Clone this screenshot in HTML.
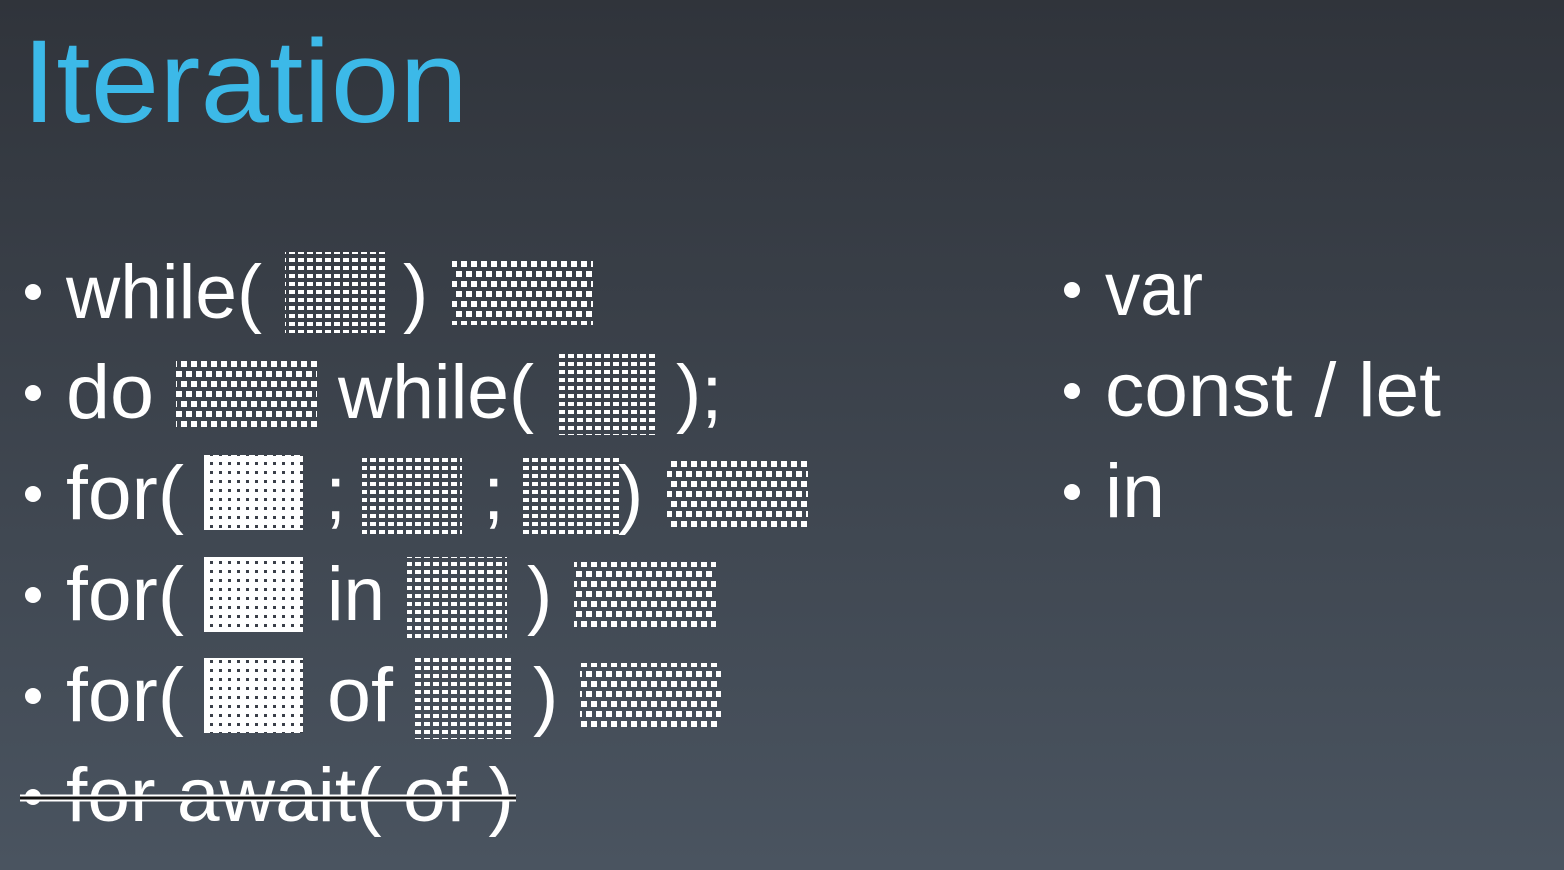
<!DOCTYPE html>
<html><head><meta charset="utf-8"><style>
html,body{margin:0;padding:0;width:1564px;height:870px;overflow:hidden;}
</style></head><body>
<svg width="1564" height="870" xmlns="http://www.w3.org/2000/svg" font-family="Liberation Sans, sans-serif">
<defs>
<linearGradient id="bg" x1="0" y1="0" x2="0" y2="1">
<stop offset="0" stop-color="#30343b"/><stop offset="1" stop-color="#4a5460"/>
</linearGradient>
<pattern id="ex" width="9" height="8" patternUnits="userSpaceOnUse">
<rect x="1" y="2" width="6" height="4" fill="#fff"/>
</pattern>
<pattern id="st" width="20" height="20" patternUnits="userSpaceOnUse">
<rect x="1" y="1" width="6" height="6" fill="#fff"/>
<rect x="11" y="1" width="6" height="6" fill="#fff"/>
<rect x="6" y="11" width="6" height="6" fill="#fff"/>
<rect x="16" y="11" width="4" height="6" fill="#fff"/>
<rect x="0" y="11" width="2" height="6" fill="#fff"/>
</pattern>
<pattern id="dc" width="9" height="9" patternUnits="userSpaceOnUse">
<rect width="9" height="9" fill="#fff"/>
<rect x="3" y="3" width="3" height="3" fill="#3a3f48"/>
</pattern>
</defs>
<rect width="1564" height="870" fill="url(#bg)"/>
<text x="22" y="122" font-size="118" fill="#3cb9e8" textLength="446" lengthAdjust="spacingAndGlyphs">Iteration</text>
<g fill="#fff" font-size="76">
<circle cx="33" cy="292" r="8"/><circle cx="33" cy="393" r="8"/><circle cx="33" cy="494" r="8"/>
<circle cx="33" cy="595" r="8"/><circle cx="33" cy="696" r="8"/><circle cx="33" cy="797" r="8"/>
<text x="66" y="318" textLength="196" lengthAdjust="spacingAndGlyphs">while(</text>
<text x="403" y="318">)</text>
<text x="66" y="418" textLength="88" lengthAdjust="spacingAndGlyphs">do</text>
<text x="338" y="418" textLength="196" lengthAdjust="spacingAndGlyphs">while(</text>
<text x="676" y="418">);</text>
<text x="66" y="519" textLength="118" lengthAdjust="spacingAndGlyphs">for(</text>
<text x="325" y="519">;</text>
<text x="483" y="519">;</text>
<text x="618" y="519">)</text>
<text x="66" y="620" textLength="118" lengthAdjust="spacingAndGlyphs">for(</text>
<text x="327" y="620" textLength="58" lengthAdjust="spacingAndGlyphs">in</text>
<text x="527" y="620">)</text>
<text x="66" y="721" textLength="118" lengthAdjust="spacingAndGlyphs">for(</text>
<text x="327" y="721" textLength="66" lengthAdjust="spacingAndGlyphs">of</text>
<text x="533" y="721">)</text>
<text x="66" y="821" textLength="448" lengthAdjust="spacingAndGlyphs">for await( of )</text>
<circle cx="1072" cy="290" r="8"/><circle cx="1072" cy="391" r="8"/><circle cx="1072" cy="492" r="8"/>
<text x="1105" y="315" textLength="98" lengthAdjust="spacingAndGlyphs">var</text>
<text x="1105" y="416" textLength="336" lengthAdjust="spacingAndGlyphs">const / let</text>
<text x="1105" y="517" textLength="60" lengthAdjust="spacingAndGlyphs">in</text>
</g>
<line x1="20" y1="798" x2="516" y2="798" stroke="#fff" stroke-width="7"/>
<line x1="20" y1="798" x2="516" y2="798" stroke="#111" stroke-width="3"/>
<g>
<rect x="285" y="252" width="100" height="81" fill="url(#ex)"/>
<rect x="452" y="258" width="141" height="67" fill="url(#st)"/>
<rect x="176" y="360" width="141" height="67" fill="url(#st)"/>
<rect x="556" y="354" width="100" height="81" fill="url(#ex)"/>
<rect x="204" y="455" width="99" height="75" fill="url(#dc)"/>
<rect x="362" y="455" width="100" height="81" fill="url(#ex)"/>
<rect x="521" y="455" width="100" height="81" fill="url(#ex)"/>
<rect x="667" y="460" width="141" height="67" fill="url(#st)"/>
<rect x="204" y="557" width="99" height="75" fill="url(#dc)"/>
<rect x="407" y="557" width="100" height="81" fill="url(#ex)"/>
<rect x="574" y="562" width="142" height="68" fill="url(#st)"/>
<rect x="204" y="658" width="99" height="75" fill="url(#dc)"/>
<rect x="413" y="658" width="100" height="81" fill="url(#ex)"/>
<rect x="580" y="663" width="141" height="68" fill="url(#st)"/>
</g>
</svg>
</body></html>
